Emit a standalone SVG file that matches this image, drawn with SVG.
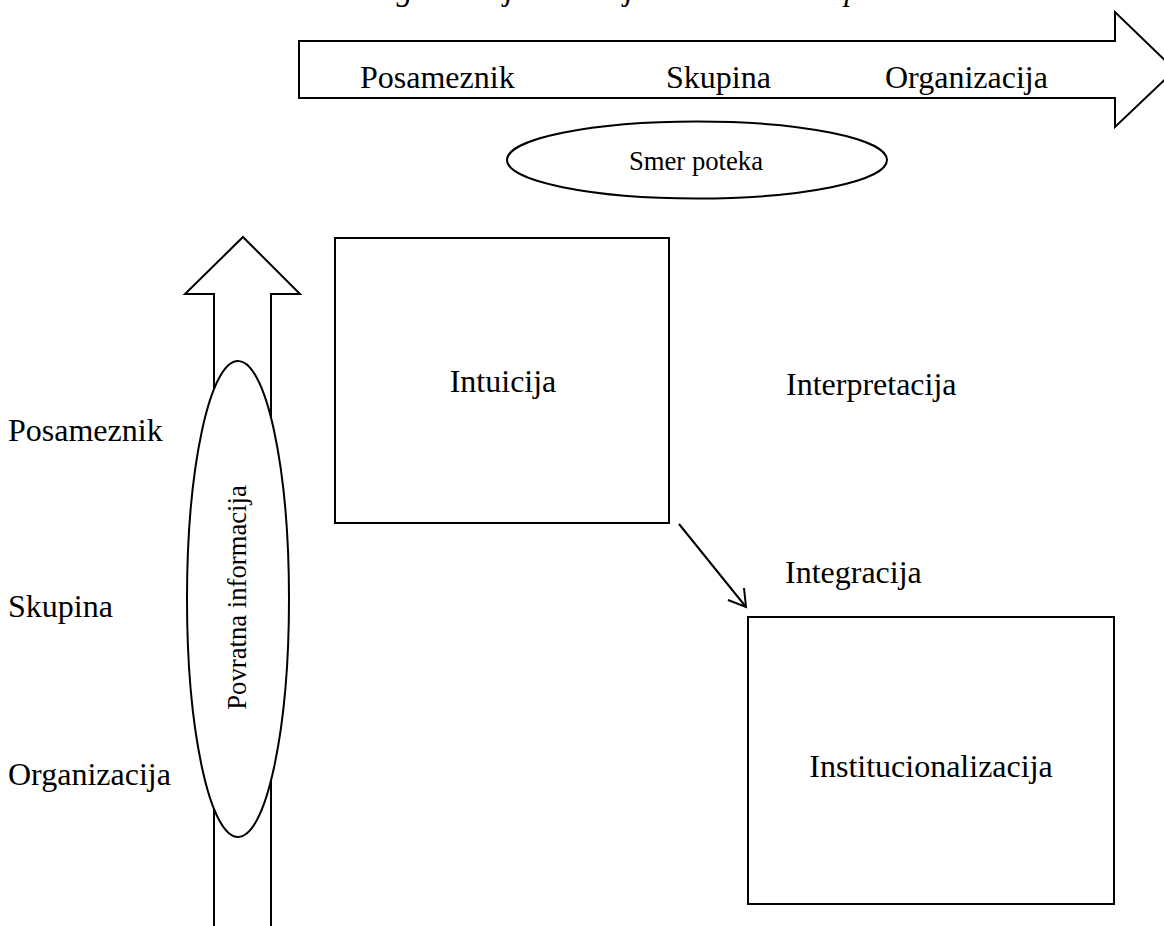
<svg xmlns="http://www.w3.org/2000/svg" width="1164" height="926" viewBox="0 0 1164 926">
  <style>
    .shape { fill: #fff; stroke: #000; stroke-width: 2; }
    .line { fill: none; stroke: #000; stroke-width: 2; }
    .lbl { font-family: "Liberation Serif", "Times New Roman", serif; font-size: 32px; fill: #000; }
    .small { font-family: "Liberation Serif", "Times New Roman", serif; font-size: 26.7px; fill: #000; }
    .caption { font-family: "Liberation Serif", "Times New Roman", serif; font-size: 32px; font-style: italic; fill: #000; }
  </style>
  <rect width="1164" height="926" fill="#fff"/>

  <!-- caption above the figure, clipped by the top edge -->
  <text class="caption" x="362" y="0">Organizacijsko učenje kot dinamičen proces</text>

  <!-- flow direction arrow -->
  <g id="flow-arrow">
    <polygon class="shape" points="299,41 1115,41 1115,12 1175,70 1115,127 1115,98 299,98"/>
    <text class="lbl" x="360" y="88">Posameznik</text>
    <text class="lbl" x="666" y="88">Skupina</text>
    <text class="lbl" x="885" y="88">Organizacija</text>
  </g>

  <g id="flow-label">
    <ellipse class="shape" cx="697" cy="160" rx="190" ry="38.5"/>
    <text class="small" x="696" y="170" text-anchor="middle">Smer poteka</text>
  </g>

  <!-- feedback arrow -->
  <g id="feedback-arrow">
    <polygon class="shape" points="214,930 214,294 185,294 243,237 300,294 271,294 271,930"/>
  </g>

  <g id="feedback-label">
    <ellipse class="shape" cx="238" cy="599" rx="51" ry="238"/>
    <text class="small" transform="translate(246,597.5) rotate(-90)" x="0" y="0" text-anchor="middle">Povratna informacija</text>
  </g>

  <!-- level labels -->
  <g id="levels">
    <text class="lbl" x="8" y="441">Posameznik</text>
    <text class="lbl" x="8" y="617">Skupina</text>
    <text class="lbl" x="8" y="785">Organizacija</text>
  </g>

  <g id="intuicija">
    <rect class="shape" x="335" y="238" width="334" height="285"/>
    <text class="lbl" x="503" y="392" text-anchor="middle">Intuicija</text>
  </g>

  <g id="interpretacija">
    <text class="lbl" x="786" y="395">Interpretacija</text>
  </g>

  <g id="integracija">
    <text class="lbl" x="785" y="583">Integracija</text>
  </g>

  <g id="institucionalizacija">
    <rect class="shape" x="748" y="617" width="366" height="287"/>
    <text class="lbl" x="931" y="777" text-anchor="middle">Institucionalizacija</text>
  </g>

  <g id="connectors">
    <line class="line" x1="679" y1="524" x2="746" y2="607"/>
    <polyline class="line" points="728,600 746,607 744,588"/>
  </g>
</svg>
